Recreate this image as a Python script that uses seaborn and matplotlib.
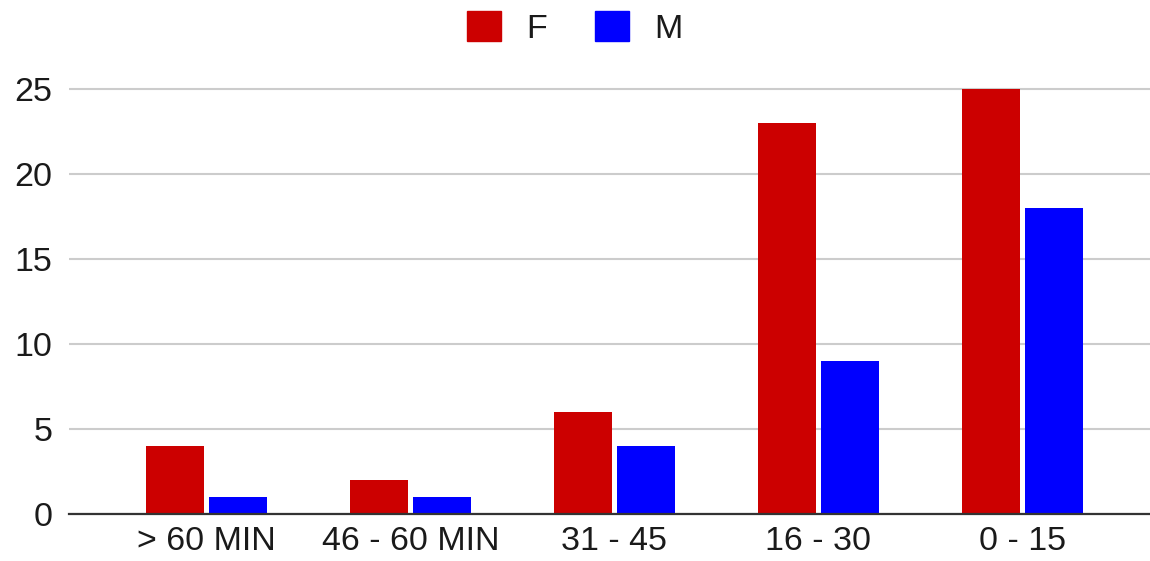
import pandas as pd
import matplotlib
matplotlib.use("Agg")
import matplotlib.pyplot as plt
import seaborn as sns

# --- DATA ---
CATEGORIES = ["> 60 MIN", "46 - 60 MIN", "31 - 45", "16 - 30", "0 - 15"]
F_VALUES = [4, 2, 6, 23, 25]
M_VALUES = [1, 1, 4, 9, 18]
SERIES = ["F", "M"]
COLORS = {"F": "#cc0000", "M": "#0000ff"}
Y_TICKS = [0, 5, 10, 15, 20, 25]

df = pd.DataFrame({
    "category": CATEGORIES * 2,
    "value": F_VALUES + M_VALUES,
    "sex": ["F"] * len(CATEGORIES) + ["M"] * len(CATEGORIES),
})

sns.set_theme(style="white")
plt.rcParams["font.family"] = ["Liberation Sans", "DejaVu Sans"]

fig = plt.figure(figsize=(11.5, 5.61), dpi=100)
ax = fig.add_axes([0.06, 0.0838, 0.94, 0.773])

sns.barplot(data=df, x="category", y="value", hue="sex", hue_order=SERIES,
            order=CATEGORIES, palette=COLORS, width=0.613, gap=0.08,
            saturation=1, linewidth=0, ax=ax, legend=False)

ax.set_xlim(-0.674, 4.625)
ax.set_ylim(0, 25.53)
ax.set_yticks(Y_TICKS)
ax.yaxis.grid(True, color="#cccccc", linewidth=1.5)
ax.set_axisbelow(True)
ax.set_xlabel("")
ax.set_ylabel("")
for side in ["top", "right", "left"]:
    ax.spines[side].set_visible(False)
ax.spines["bottom"].set_color("#333333")
ax.spines["bottom"].set_linewidth(1.6)
ax.tick_params(axis="y", length=0, pad=12, labelsize=24.5, labelcolor="#1a1a1a")
ax.tick_params(axis="x", length=0, pad=9, labelsize=24.5, labelcolor="#1a1a1a")

handles = [plt.Rectangle((0, 0), 1, 1, color=COLORS[s]) for s in SERIES]
fig.legend(handles, SERIES, loc="upper center", bbox_to_anchor=(0.5, 1.035),
           ncol=2, frameon=False, fontsize=24.5, handlelength=1.0,
           handleheight=1.0, columnspacing=1.4, handletextpad=0.75,
           labelcolor="#1a1a1a")

fig.savefig("out.png", dpi=100)
plt.close(fig)
